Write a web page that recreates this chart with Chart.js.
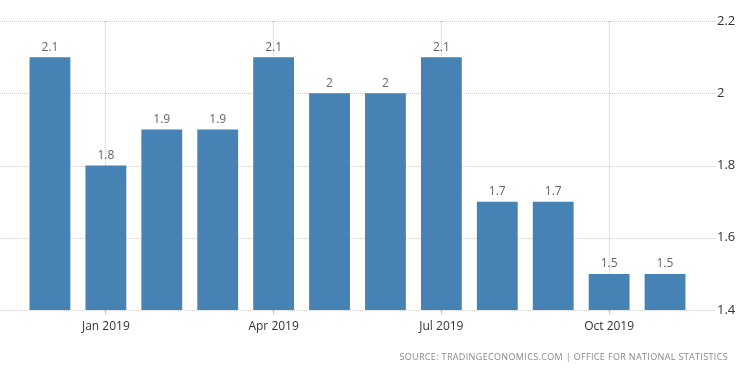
<!DOCTYPE html>
<html>
<head>
<meta charset="utf-8">
<script src="https://cdn.jsdelivr.net/npm/chart.js@4"></script>
<style>
  body { margin: 0; background: #fff; }
  #wrap { position: relative; width: 750px; height: 373px; }
  #source {
    position: absolute; right: 22px; top: 350px;
    font: 9px 'Open Sans', sans-serif; letter-spacing: 0.35px; color: #888;
  }
</style>
</head>
<body>
<div id="wrap">
  <canvas id="chart" width="750" height="373"></canvas>
  <div id="source">SOURCE: TRADINGECONOMICS.COM | OFFICE FOR NATIONAL STATISTICS</div>
</div>
<script>
// monthly values, Dec 2018 - Nov 2019
var months = ['Dec 2018','Jan 2019','Feb 2019','Mar 2019','Apr 2019','May 2019',
              'Jun 2019','Jul 2019','Aug 2019','Sep 2019','Oct 2019','Nov 2019'];
var values = [2.1, 1.8, 1.9, 1.9, 2.1, 2, 2, 2.1, 1.7, 1.7, 1.5, 1.5];
var shownMonths = ['Jan 2019','Apr 2019','Jul 2019','Oct 2019'];
var yTicks = [1.4, 1.6, 1.8, 2, 2.2];

var font = "'Open Sans', sans-serif";

// dotted horizontal grid across the full width + value labels
var extras = {
    id: 'extras',
    beforeDatasetsDraw: function(chart) {
        var c = chart.ctx, y = chart.scales.y;
        c.save();
        c.strokeStyle = '#cfcfcf';
        c.lineWidth = 1;
        c.setLineDash([1, 1]);
        yTicks.forEach(function(v) {
            var py = Math.round(y.getPixelForValue(v)) + 0.5;
            c.beginPath();
            c.moveTo(0, py);
            c.lineTo(715, py);
            c.stroke();
        });
        c.restore();
    },
    afterDatasetsDraw: function(chart) {
        var c = chart.ctx;
        var meta = chart.getDatasetMeta(0);
        c.save();
        c.fillStyle = '#666';
        c.font = '12px ' + font;
        c.textAlign = 'center';
        c.textBaseline = 'bottom';
        meta.data.forEach(function(bar, i) {
            c.fillText(String(values[i]), bar.x, bar.y - 4);
        });
        c.restore();
    }
};

new Chart(document.getElementById('chart').getContext('2d'), {
    type: 'bar',
    data: {
        labels: months,
        datasets: [{
            data: values,
            backgroundColor: '#4682b4',
            categoryPercentage: 1,
            barPercentage: 0.73
        }]
    },
    options: {
        responsive: false,
        animation: false,
        layout: { padding: { left: 22, top: 21, right: 0, bottom: 0 } },
        plugins: { legend: { display: false }, tooltip: { enabled: false } },
        scales: {
            x: {
                ticks: {
                    autoSkip: false, maxRotation: 0, padding: 5,
                    color: '#333', font: { family: font, size: 12 },
                    callback: function(v, i) {
                        return shownMonths.indexOf(months[i]) >= 0 ? months[i] : '';
                    }
                },
                grid: {
                    drawTicks: true, tickLength: 4,
                    offset: false,
                    color: function(ctx) {
                        return shownMonths.indexOf(months[ctx.index]) >= 0 ? '#c8c8c8' : 'rgba(0,0,0,0)';
                    },
                    tickColor: function(ctx) {
                        return shownMonths.indexOf(months[ctx.index]) >= 0 ? '#bbb' : 'rgba(0,0,0,0)';
                    },
                    lineWidth: 1
                },
                border: { display: false, dash: [1, 1] },
                afterFit: function(s) { s.height = 63; }
            },
            y: {
                position: 'right',
                min: 1.4, max: 2.2,
                afterBuildTicks: function(s) {
                    s.ticks = yTicks.map(function(v) { return { value: v }; });
                },
                ticks: {
                    padding: 4, color: '#333', font: { family: font, size: 13 },
                    callback: function(v) { return String(v); }
                },
                grid: {
                    drawOnChartArea: false, drawTicks: true, tickLength: 20,
                    color: 'rgba(0,0,0,0)'
                },
                border: { display: false },
                afterFit: function(s) { s.width = 57; }
            }
        }
    },
    plugins: [extras]
});
</script>
</body>
</html>
